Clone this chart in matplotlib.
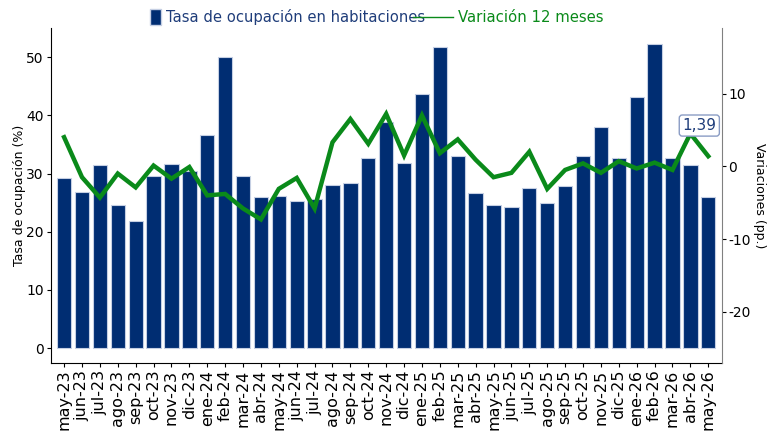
import numpy as np
import matplotlib
matplotlib.use('Agg')
import matplotlib.pyplot as plt
from matplotlib.patches import Patch
from matplotlib.lines import Line2D

plt.rcParams['axes.unicode_minus'] = False

# Datos
meses = ['may-23','jun-23','jul-23','ago-23','sep-23','oct-23','nov-23','dic-23',
         'ene-24','feb-24','mar-24','abr-24','may-24','jun-24','jul-24','ago-24',
         'sep-24','oct-24','nov-24','dic-24','ene-25','feb-25','mar-25','abr-25',
         'may-25','jun-25','jul-25','ago-25','sep-25','oct-25','nov-25','dic-25',
         'ene-26','feb-26','mar-26','abr-26','may-26']
tasa = [29.2, 26.9, 31.4, 24.6, 21.9, 29.5, 31.6, 30.5,
        36.7, 50.0, 29.5, 25.9, 26.2, 25.3, 25.6, 28.0,
        28.3, 32.6, 38.9, 31.9, 43.6, 51.8, 33.0, 26.6,
        24.6, 24.3, 27.6, 24.9, 27.9, 33.0, 38.0, 32.7,
        43.2, 52.3, 32.6, 31.5, 26.0]
variacion = [4.0, -1.5, -4.3, -1.0, -2.9, 0.1, -1.7, -0.1,
             -4.0, -3.8, -5.8, -7.3, -3.1, -1.6, -5.8, 3.3,
             6.5, 3.1, 7.2, 1.5, 7.0, 1.8, 3.7, 0.9,
             -1.5, -0.9, 2.0, -3.1, -0.5, 0.4, -0.9, 0.7,
             -0.3, 0.5, -0.5, 4.5, 1.39]
ultimo_txt = '1,39'

azul = '#002D72'
verde = '#0A8A1A'

fig = plt.figure(figsize=(7.76, 4.32), dpi=100)
ax = fig.add_axes([0.0653, 0.1604, 0.8647, 0.7746])
x = np.arange(len(meses))

ax.bar(x, tasa, width=0.8, color=azul, edgecolor='#c5cfe3', linewidth=0.8)
ax.set_xlim(-0.75, len(meses) - 0.25)
ax.set_ylim(-2.5, 55)
ax.set_yticks([0, 10, 20, 30, 40, 50])
ax.set_xticks(x)
ax.set_xticklabels(meses, rotation=90, fontsize=11.5)
ax.tick_params(axis='y', labelsize=10, length=3, pad=2)
ax.tick_params(axis='x', length=3, pad=2)
ax.set_ylabel('Tasa de ocupación (%)', fontsize=9, labelpad=0)
ax.spines['top'].set_visible(False)
ax.spines['right'].set_visible(False)

ax2 = ax.twinx()
ax2.plot(x, variacion, color=verde, linewidth=3.2, solid_joinstyle='miter')
ax2.set_ylim(-27, 19)
ax2.set_yticks([-20, -10, 0, 10])
ax2.tick_params(axis='y', labelsize=10, length=3, pad=2)
ax2.set_ylabel('Variaciones (pp.)', fontsize=9, rotation=270, labelpad=11)
ax2.spines['top'].set_visible(False)
ax2.spines['left'].set_visible(False)
ax2.spines['bottom'].set_visible(False)
ax2.spines['right'].set_color('#808080')

# etiqueta del ultimo valor
ax2.text(len(meses) - 1.5, 5.6, ultimo_txt, fontsize=11, color='#1f3d7a',
         ha='center', va='center',
         bbox=dict(boxstyle='round,pad=0.2', fc='white', ec='#8a9cc4', lw=1))

# leyendas arriba
fig.legend(handles=[Patch(facecolor=azul, edgecolor='#c5cfe3')],
           labels=['Tasa de ocupación en habitaciones'],
           loc='center left', bbox_to_anchor=(0.193, 0.96), frameon=False,
           fontsize=10.6, labelcolor='#1f3d7a', handlelength=0.75, handleheight=1.3,
           handletextpad=0.35, borderpad=0, borderaxespad=0)
fig.legend(handles=[Line2D([0], [0], color=verde, lw=1)],
           labels=['Variación 12 meses'],
           loc='center left', bbox_to_anchor=(0.532, 0.96), frameon=False,
           fontsize=10.7, labelcolor=verde, handlelength=2.7,
           handletextpad=0.35, borderpad=0, borderaxespad=0)

fig.savefig('out.png', dpi=100)
